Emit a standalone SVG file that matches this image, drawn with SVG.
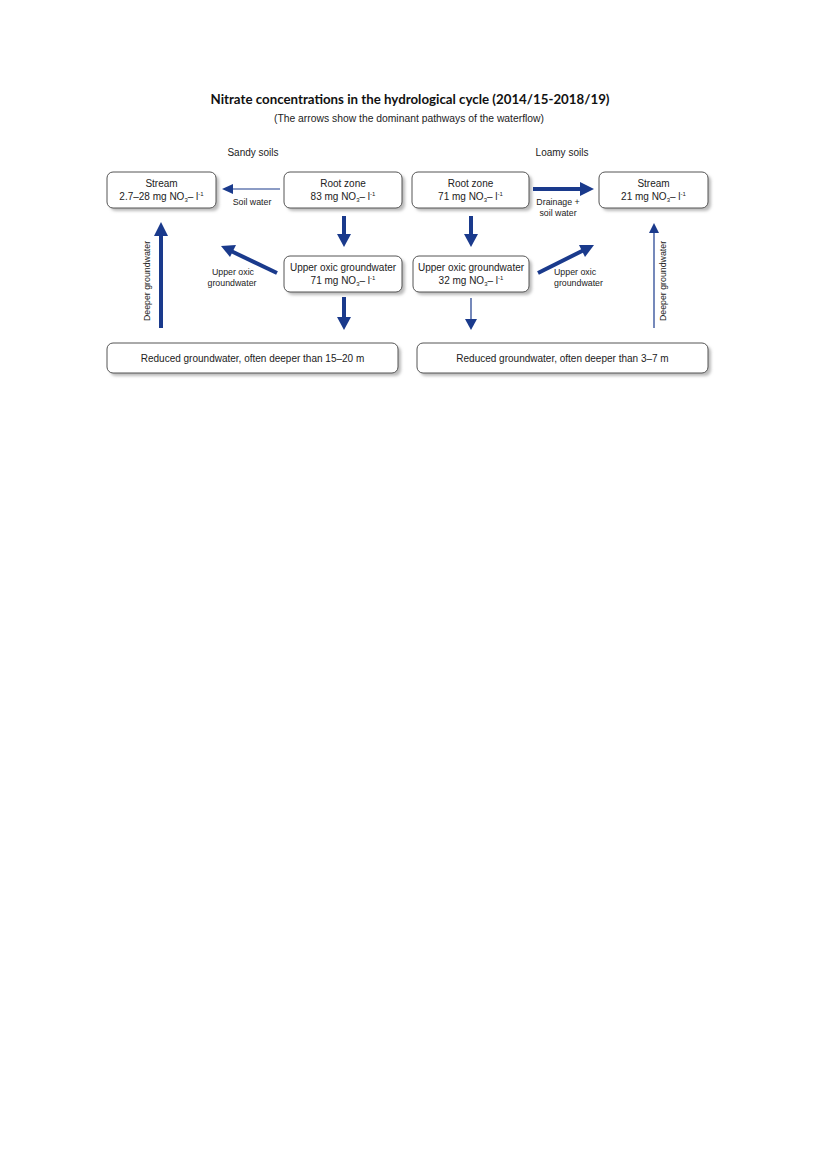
<svg xmlns="http://www.w3.org/2000/svg" width="827" height="1169" viewBox="0 0 827 1169">
<style>
.box{fill:#fff;stroke:#555;stroke-width:1}
.sh{fill:#bbb;filter:url(#blur)}
.t{font-family:"Liberation Sans",Arial,sans-serif;font-size:10px;fill:#222;text-anchor:middle}
.s{font-family:"Liberation Sans",Arial,sans-serif;font-size:8.8px;fill:#222;text-anchor:middle}
.st{text-anchor:start}
.thick{stroke:#1a3a8c;stroke-width:4;fill:none}
.thin{stroke:#1a3a8c;stroke-width:1.2;fill:none}
.head{fill:#1a3a8c}
</style>
<defs>
<filter id="blur" x="-10%" y="-30%" width="120%" height="160%"><feGaussianBlur stdDeviation="1.5"/></filter>
</defs>
<rect width="827" height="1169" fill="#fff"/>
<text x="410" y="104" font-family="Lato,'Open Sans',sans-serif" font-weight="bold" font-size="14" fill="#111" text-anchor="middle" textLength="399" lengthAdjust="spacingAndGlyphs">Nitrate concentrations in the hydrological cycle (2014/15-2018/19)</text>
<text x="409" y="122" class="t" font-size="9.5" textLength="270" lengthAdjust="spacingAndGlyphs">(The arrows show the dominant pathways of the waterflow)</text>
<text x="253" y="156" class="t">Sandy soils</text>
<text x="562" y="156" class="t">Loamy soils</text>

<g id="stream-left">
<rect class="sh" x="110" y="175" width="109" height="36" rx="6"/>
<rect class="box" x="107" y="172" width="109" height="36" rx="6"/>
<text x="161.5" y="187" class="t">Stream</text>
<text x="161.5" y="200" class="t">2.7–28 mg NO<tspan font-size="6" dy="2">3</tspan><tspan dy="-2">– l</tspan><tspan font-size="6" dy="-4">-1</tspan></text>
</g>
<g id="root-left">
<rect class="sh" x="287" y="175" width="118" height="36" rx="6"/>
<rect class="box" x="284" y="172" width="118" height="36" rx="6"/>
<text x="343" y="187" class="t">Root zone</text>
<text x="343" y="200" class="t">83 mg NO<tspan font-size="6" dy="2">3</tspan><tspan dy="-2">– l</tspan><tspan font-size="6" dy="-4">-1</tspan></text>
</g>
<g id="root-right">
<rect class="sh" x="415" y="175" width="117" height="36" rx="6"/>
<rect class="box" x="412" y="172" width="117" height="36" rx="6"/>
<text x="470.5" y="187" class="t">Root zone</text>
<text x="470.5" y="200" class="t">71 mg NO<tspan font-size="6" dy="2">3</tspan><tspan dy="-2">– l</tspan><tspan font-size="6" dy="-4">-1</tspan></text>
</g>
<g id="stream-right">
<rect class="sh" x="602" y="175" width="109" height="36" rx="6"/>
<rect class="box" x="599" y="172" width="109" height="36" rx="6"/>
<text x="653.5" y="187" class="t">Stream</text>
<text x="653.5" y="200" class="t">21 mg NO<tspan font-size="6" dy="2">3</tspan><tspan dy="-2">– l</tspan><tspan font-size="6" dy="-4">-1</tspan></text>
</g>
<g id="oxic-left">
<rect class="sh" x="287" y="259" width="118" height="36" rx="6"/>
<rect class="box" x="284" y="256" width="118" height="36" rx="6"/>
<text x="343" y="271" class="t">Upper oxic groundwater</text>
<text x="343" y="284" class="t">71 mg NO<tspan font-size="6" dy="2">3</tspan><tspan dy="-2">– l</tspan><tspan font-size="6" dy="-4">-1</tspan></text>
</g>
<g id="oxic-right">
<rect class="sh" x="416" y="259" width="116" height="36" rx="6"/>
<rect class="box" x="413" y="256" width="116" height="36" rx="6"/>
<text x="471" y="271" class="t">Upper oxic groundwater</text>
<text x="471" y="284" class="t">32 mg NO<tspan font-size="6" dy="2">3</tspan><tspan dy="-2">– l</tspan><tspan font-size="6" dy="-4">-1</tspan></text>
</g>
<g id="reduced-left">
<rect class="sh" x="110" y="346" width="291" height="30" rx="6"/>
<rect class="box" x="107" y="343" width="291" height="30" rx="6"/>
<text x="252.5" y="362" class="t">Reduced groundwater, often deeper than 15–20 m</text>
</g>
<g id="reduced-right">
<rect class="sh" x="420" y="346" width="291" height="30" rx="6"/>
<rect class="box" x="417" y="343" width="291" height="30" rx="6"/>
<text x="562.5" y="362" class="t">Reduced groundwater, often deeper than 3–7 m</text>
</g>

<g id="connectors">
<!-- soil water left -->
<line class="thin" x1="280" y1="189" x2="231" y2="189" stroke="#5868a8"/>
<polygon class="head" points="222,189 233,184 233,194"/>
<text x="252" y="205" class="s">Soil water</text>
<!-- root left down -->
<line class="thick" x1="344" y1="216" x2="344" y2="236"/>
<polygon class="head" points="344,247 337,234 351,234"/>
<!-- oxic left down -->
<line class="thick" x1="344" y1="297" x2="344" y2="318"/>
<polygon class="head" points="344,330 337,317 351,317"/>
<!-- deeper groundwater left -->
<line class="thick" x1="161" y1="328" x2="161" y2="234"/>
<polygon class="head" points="161,222 154,236 168,236"/>
<text transform="translate(150,281) rotate(-90)" class="s">Deeper groundwater</text>
<!-- oxic left diagonal -->
<line class="thick" x1="277" y1="273" x2="231" y2="251"/>
<polygon class="head" points="221,246 236,245 230,257"/>
<text x="233" y="275" class="s">Upper oxic</text>
<text x="232" y="286" class="s">groundwater</text>
<!-- drainage right -->
<line class="thick" x1="533" y1="189" x2="582" y2="189"/>
<polygon class="head" points="594,189 580,182 580,196"/>
<text x="558" y="205" class="s">Drainage +</text>
<text x="558" y="216" class="s">soil water</text>
<!-- root right down -->
<line class="thick" x1="471" y1="216" x2="471" y2="236"/>
<polygon class="head" points="471,247 464,234 478,234"/>
<!-- oxic right down thin -->
<line class="thin" x1="471" y1="298" x2="471" y2="320"/>
<polygon class="head" points="471,330 465,319 477,319"/>
<!-- oxic right diagonal -->
<line class="thick" x1="538" y1="273" x2="584" y2="250"/>
<polygon class="head" points="594,245 579,245 585,257"/>
<text x="554" y="275" class="s st">Upper oxic</text>
<text x="554" y="286" class="s st">groundwater</text>
<!-- deeper right thin -->
<line class="thin" x1="654" y1="328" x2="654" y2="232"/>
<polygon class="head" points="654,223 649,233 659,233"/>
<text transform="translate(666,281) rotate(-90)" class="s">Deeper groundwater</text>
</g>
</svg>
